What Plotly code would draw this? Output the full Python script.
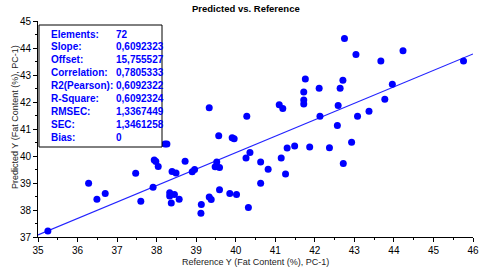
import plotly.graph_objects as go

reference_y = [
    35.25, 36.28, 36.49, 36.70, 37.47, 37.60, 37.91, 37.94, 37.98, 38.04,
    38.21, 38.26, 38.33, 38.33, 38.37, 38.39, 38.45, 38.49, 38.57, 38.72,
    38.90, 38.96, 39.13, 39.12, 39.33, 39.33, 39.38, 39.48, 39.52, 39.57,
    39.59, 39.59,
    39.91, 39.96, 39.85, 40.02, 40.26, 40.28, 40.32, 40.36, 40.63, 40.63,
    40.82, 41.10, 41.19, 41.15, 41.26, 41.30, 41.49, 41.72, 41.72, 41.72,
    41.76, 41.87, 42.11, 42.13, 42.37, 42.57, 42.59, 42.64, 42.71, 42.72,
    42.75, 42.93, 43.04, 43.08, 43.37, 43.67, 43.77, 43.96, 44.23, 45.76,
]
predicted_y = [
    37.22, 38.99, 38.40, 38.61, 39.36, 38.32, 38.84, 39.85, 39.80, 39.61,
    40.44, 40.44, 38.64, 38.52, 38.26, 39.43, 38.57, 39.37, 38.40, 39.81,
    39.42, 39.50, 38.20, 37.88, 41.79, 38.48, 38.39, 39.60, 39.78, 40.75,
    39.57, 38.75,
    40.68, 40.64, 38.61, 38.57, 39.93, 41.47, 38.09, 40.13, 39.78, 38.99,
    39.51, 41.90, 41.76, 39.93, 39.33, 40.30, 40.37, 42.37, 42.07, 41.93,
    42.85, 40.33, 42.51, 41.47, 40.31, 41.13, 41.87, 42.51, 42.81, 39.72,
    44.35, 40.51, 43.76, 41.47, 41.66, 43.52, 42.10, 42.66, 43.90, 43.52,
]

slope = 0.6092323
offset = 15.755527
line_x = [35, 46]

stats_labels = ["Elements:", "Slope:", "Offset:", "Correlation:", "R2(Pearson):",
                "R-Square:", "RMSEC:", "SEC:", "Bias:"]
stats_values = ["72", "0,6092323", "15,755527", "0,7805333", "0,6092322",
                "0,6092324", "1,3367449", "1,3461258", "0"]

title_text = "Predicted vs. Reference"
x_title = "Reference Y (Fat Content (%), PC-1)"
y_title = "Predicted Y (Fat Content (%), PC-1)"

BLUE = "#0000ff"
FONT = "Liberation Sans, Arial, sans-serif"

FIG_W, FIG_H = 480, 271
PLOT_L, PLOT_T, PLOT_R, PLOT_B = 38, 21, 473, 237
plot_w = PLOT_R - PLOT_L
plot_h = PLOT_B - PLOT_T


def px_x(p):
    return (p - PLOT_L) / plot_w


def px_y(p):
    return (PLOT_B - p) / plot_h


fig = go.Figure()
fig.add_trace(go.Scatter(
    x=line_x, y=[offset + slope * v for v in line_x], mode="lines",
    line=dict(color="#2323ff", width=1.2), hoverinfo="skip", showlegend=False))
fig.add_trace(go.Scatter(
    x=reference_y, y=predicted_y, mode="markers",
    marker=dict(color=BLUE, size=7, line=dict(width=0)), showlegend=False))

axis_common = dict(
    showgrid=False, zeroline=False, showline=True, linecolor="black", linewidth=1,
    ticks="outside", ticklen=4, tickwidth=1, tickcolor="black",
    tickfont=dict(family=FONT, size=10, color="black"),
    minor=dict(ticks="outside", ticklen=2, tickcolor="black", dtick=0.5),
    dtick=1, fixedrange=True,
)

fig.update_xaxes(range=[35, 46], tick0=35, **axis_common)
fig.update_yaxes(range=[37, 45], tick0=37, **axis_common)

fig.update_layout(
    width=FIG_W, height=FIG_H,
    margin=dict(l=PLOT_L, r=FIG_W - PLOT_R, t=PLOT_T, b=FIG_H - PLOT_B, autoexpand=False),
    paper_bgcolor="white", plot_bgcolor="white",
    font=dict(family=FONT, size=10, color="black"),
    showlegend=False,
)

fig.add_shape(type="rect", xref="paper", yref="paper",
              x0=px_x(39), x1=px_x(162), y0=px_y(147), y1=px_y(25),
              line=dict(color="black", width=1), fillcolor="white", layer="above")

annotations = []
top_px = 34.0
step_px = 12.9
for i, (lab, val) in enumerate(zip(stats_labels, stats_values)):
    yp = px_y(top_px + i * step_px)
    annotations.append(dict(text="<b>%s</b>" % lab, xref="paper", yref="paper",
                            x=px_x(49), y=yp, xanchor="left", yanchor="middle",
                            showarrow=False, font=dict(family=FONT, size=10, color=BLUE)))
    annotations.append(dict(text="<b>%s</b>" % val, xref="paper", yref="paper",
                            x=px_x(114), y=yp, xanchor="left", yanchor="middle",
                            showarrow=False, font=dict(family=FONT, size=10, color=BLUE)))

annotations.append(dict(text="<b>%s</b>" % title_text, xref="paper", yref="paper",
                        x=px_x(245.5), y=px_y(8.5),
                        xanchor="center", yanchor="middle", showarrow=False,
                        font=dict(family=FONT, size=9.5, color="black")))
annotations.append(dict(text=x_title, xref="paper", yref="paper",
                        x=0.5, y=px_y(261.5),
                        xanchor="center", yanchor="middle", showarrow=False,
                        font=dict(family=FONT, size=9, color="#222222")))
annotations.append(dict(text=y_title, xref="paper", yref="paper",
                        x=px_x(15), y=px_y(117),
                        xanchor="center", yanchor="middle", showarrow=False, textangle=-90,
                        font=dict(family=FONT, size=9, color="#222222")))
fig.update_layout(annotations=annotations)

fig.write_html(
    "out.html",
    config={"displayModeBar": False, "staticPlot": True},
    post_script="document.body.style.margin='0px';document.body.style.padding='0px';",
)
